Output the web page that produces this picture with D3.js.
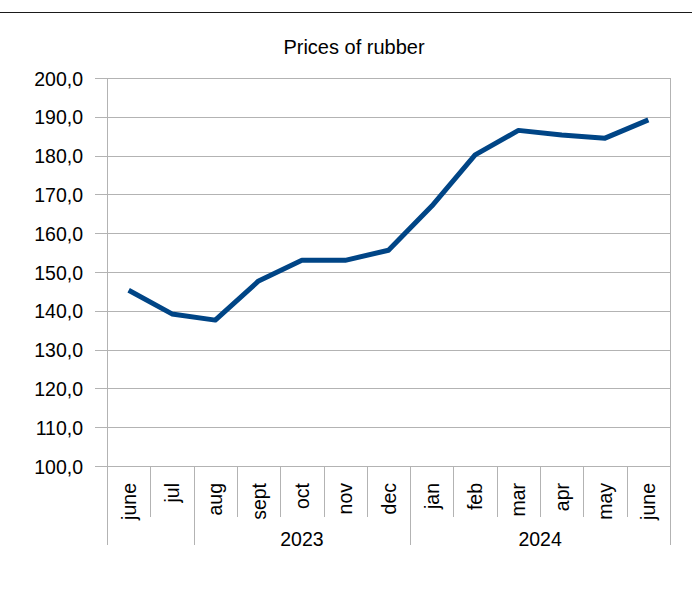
<!DOCTYPE html>
<html>
<head>
<meta charset="utf-8">
<script src="https://cdn.jsdelivr.net/npm/d3@7"></script>
<style>
  body { margin: 0; background: #fff; }
  svg { display: block; font-family: "Liberation Sans", Arial, sans-serif; }
</style>
</head>
<body>
<div id="chart"></div>
<script>
// данные
const months = ['june', 'jul', 'aug', 'sept', 'oct', 'nov', 'dec', 'jan', 'feb', 'mar', 'apr', 'may', 'june'];
const prices = [145.3, 139.2, 137.6, 147.7, 153.0, 153.0, 155.6, 167.0, 180.2, 186.5, 185.3, 184.5, 189.2];
const years = ['', '2023', '2024'];
const yearSpans = [2, 5, 6];
const yTicks = [100, 110, 120, 130, 140, 150, 160, 170, 180, 190, 200];

const width = 692, height = 589;
const margin = { left: 107, right: 22, top: 78, bottom: 123 };
const fontSize = 19.5;

const svg = d3.select('#chart').append('svg')
    .attr('width', width)
    .attr('height', height);

// верхняя линия
svg.append('line')
    .attr('x1', 0).attr('x2', width)
    .attr('y1', 12.5).attr('y2', 12.5)
    .attr('stroke', '#1a1a1a')
    .attr('stroke-width', 1);

svg.append('text')
    .attr('x', 354).attr('y', 54)
    .attr('text-anchor', 'middle')
    .attr('font-size', 20)
    .text('Prices of rubber');

const x = d3.scaleBand()
    .domain(d3.range(months.length))
    .range([margin.left, width - margin.right])
    .padding(0);

const y = d3.scaleLinear()
    .domain([100, 200])
    .range([height - margin.bottom, margin.top]);

const grid = '#b3b3b3';
const x0 = margin.left, x1 = width - margin.right;
const yb = height - margin.bottom;

// сетка
svg.append('g')
    .selectAll('line')
    .data(yTicks)
    .join('line')
    .attr('x1', x0 - 12).attr('x2', x1)
    .attr('y1', d => Math.round(y(d)) + 0.5)
    .attr('y2', d => Math.round(y(d)) + 0.5)
    .attr('stroke', grid);

// подписи оси Y
svg.append('g')
    .selectAll('text')
    .data(yTicks)
    .join('text')
    .attr('x', x0 - 24)
    .attr('y', d => y(d) + 7.5)
    .attr('text-anchor', 'end')
    .attr('font-size', fontSize)
    .text(d => d.toFixed(1).replace('.', ','));

// разделители месяцев
const bottomShort = 517, bottomLong = 545;
const boundaries = [0];
yearSpans.reduce((acc, s) => { boundaries.push(acc + s); return acc + s; }, 0);

svg.append('g')
    .selectAll('line')
    .data(d3.range(months.length + 1))
    .join('line')
    .attr('x1', i => Math.round(i < months.length ? x(i) : x1) + 0.5)
    .attr('x2', i => Math.round(i < months.length ? x(i) : x1) + 0.5)
    .attr('y1', i => (i === 0 || i === months.length) ? margin.top : yb)
    .attr('y2', i => boundaries.includes(i) ? bottomLong : bottomShort)
    .attr('stroke', grid);

// подписи месяцев
svg.append('g')
    .selectAll('text')
    .data(months)
    .join('text')
    .attr('transform', (d, i) => `translate(${x(i) + x.bandwidth() / 2 + 7},${yb + 17}) rotate(-90)`)
    .attr('text-anchor', 'end')
    .attr('font-size', fontSize)
    .text(d => d);

// подписи годов
svg.append('g')
    .selectAll('text')
    .data(years)
    .join('text')
    .attr('x', (d, i) => {
        const a = boundaries[i], b = boundaries[i + 1];
        const xa = x(a), xb = b < months.length ? x(b) : x1;
        return (xa + xb) / 2;
    })
    .attr('y', 546)
    .attr('text-anchor', 'middle')
    .attr('font-size', fontSize)
    .text(d => d);

// линия
const line = d3.line()
    .x((d, i) => x(i) + x.bandwidth() / 2)
    .y(d => y(d));

svg.append('path')
    .datum(prices)
    .attr('d', line)
    .attr('fill', 'none')
    .attr('stroke', '#004586')
    .attr('stroke-width', 5)
    .attr('stroke-linejoin', 'round');
</script>
</body>
</html>
